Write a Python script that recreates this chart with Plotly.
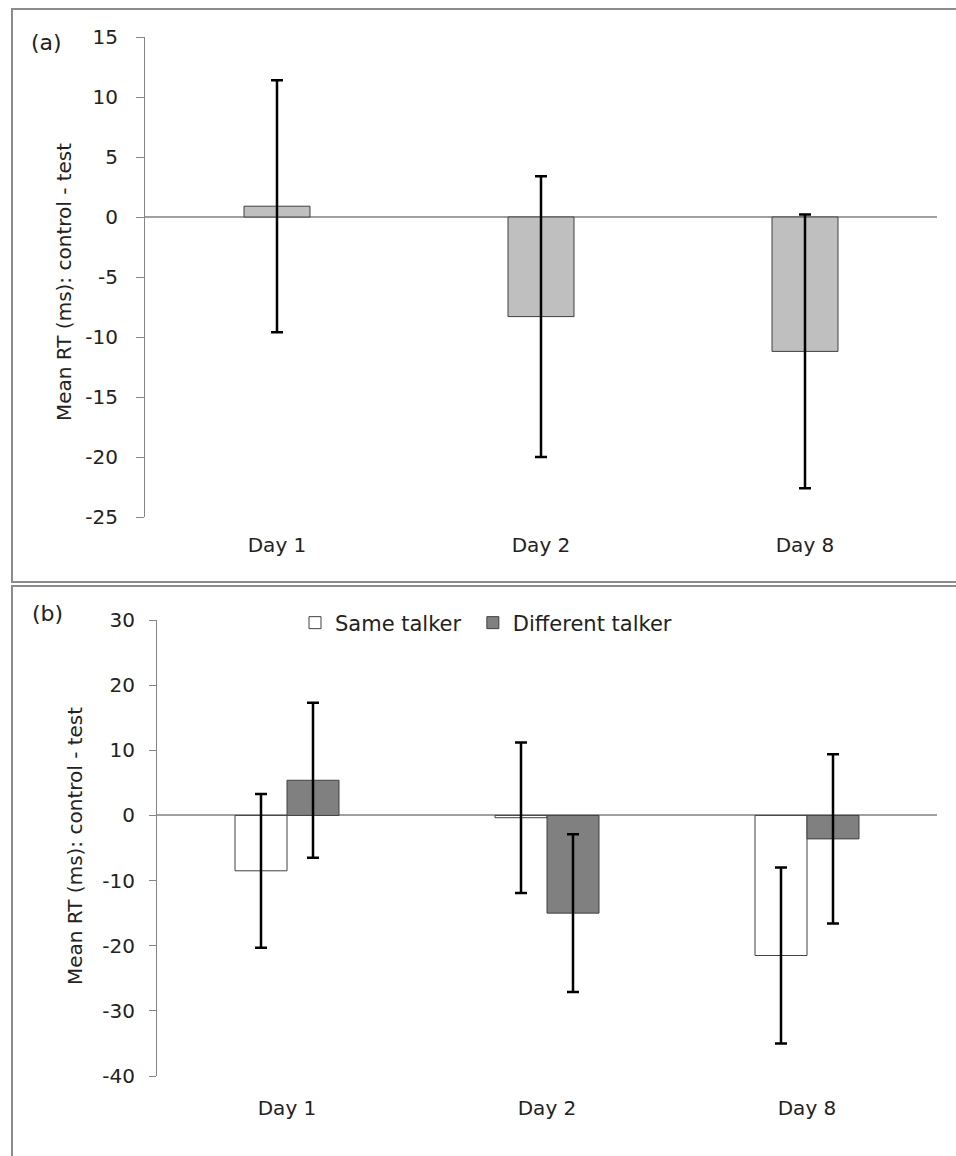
import plotly.graph_objects as go

days = ["Day 1", "Day 2", "Day 8"]

# Panel (a)
a_mean = [0.9, -8.3, -11.2]
a_err = [10.5, 11.7, 11.4]

# Panel (b)
b_same_mean = [-8.5, -0.35, -21.5]
b_same_err = [11.8, 11.55, 13.5]
b_diff_mean = [5.4, -15.0, -3.6]
b_diff_err = [11.9, 12.1, 13.0]

a_ticks = [15, 10, 5, 0, -5, -10, -15, -20, -25]
a_ticktext = ["15", "10", "5", "0", "-5", "-10", "-15", "-20", "-25"]
b_ticks = [30, 20, 10, 0, -10, -20, -30, -40]
b_ticktext = ["30", "20", "10", "0", "-10", "-20", "-30", "-40"]

W, H = 956, 1156
FONT = "DejaVu Sans"
TXT = "#222222"
AX = "#868686"
EDGE = "#404040"

def px_x(p):
    return p / W

def px_y(p):
    return 1 - p / H

fig = go.Figure()

err_style = dict(type="data", visible=True, color="black", thickness=2.5, width=6)

fig.add_trace(go.Bar(
    x=days, y=a_mean, xaxis="x", yaxis="y", width=0.25,
    marker=dict(color="#BFBFBF", line=dict(color=EDGE, width=1)),
    error_y=dict(array=a_err, **err_style), showlegend=False, name="All",
))
fig.add_trace(go.Bar(
    x=days, y=b_same_mean, xaxis="x2", yaxis="y2", width=0.2, offset=-0.2,
    marker=dict(color="#FFFFFF", line=dict(color=EDGE, width=1)),
    error_y=dict(array=b_same_err, **err_style), name="Same talker\u00a0",
))
fig.add_trace(go.Bar(
    x=days, y=b_diff_mean, xaxis="x2", yaxis="y2", width=0.2, offset=0.0,
    marker=dict(color="#808080", line=dict(color=EDGE, width=1)),
    error_y=dict(array=b_diff_err, **err_style), name="Different talker",
))

yaxis_common = dict(
    showline=True, linecolor=AX, linewidth=1, ticks="outside",
    tickcolor=AX, tickwidth=1, showgrid=False, zeroline=True,
    zerolinecolor="#A0A0A0", zerolinewidth=1.5, automargin=False,
    tickfont=dict(family=FONT, size=20, color=TXT), fixedrange=True,
)
xaxis_common = dict(
    showline=False, ticks="", showgrid=False, zeroline=False, automargin=False,
    tickfont=dict(family=FONT, size=20, color=TXT), fixedrange=True,
)

def ann(text, x, y, angle=0, size=20):
    return dict(text=text, x=px_x(x), y=px_y(y), xref="paper", yref="paper",
                xanchor="center", yanchor="middle", textangle=angle,
                showarrow=False, font=dict(family=FONT, size=size, color=TXT))

fig.update_layout(
    width=W, height=H, margin=dict(l=0, r=0, t=0, b=0, pad=0, autoexpand=False),
    paper_bgcolor="white", plot_bgcolor="white",
    font=dict(family=FONT, size=20, color=TXT),
    xaxis=dict(domain=[px_x(145), px_x(937)], anchor="y",
               ticklabelstandoff=14, **xaxis_common),
    yaxis=dict(domain=[px_y(517), px_y(37)], anchor="x", range=[-25, 15],
               tickvals=a_ticks, ticktext=a_ticktext, ticklabelstandoff=14,
               ticklen=8, **yaxis_common),
    xaxis2=dict(domain=[px_x(157), px_x(937)], anchor="y2",
                ticklabelstandoff=18, **xaxis_common),
    yaxis2=dict(domain=[px_y(1076), px_y(620)], anchor="x2", range=[-40, 30],
                tickvals=b_ticks, ticktext=b_ticktext, ticklabelstandoff=10,
                ticklen=7, **yaxis_common),
    legend=dict(orientation="h", x=px_x(295), y=px_y(623), xanchor="left",
                yanchor="middle", font=dict(family=FONT, size=21, color=TXT),
                bgcolor="rgba(0,0,0,0)", itemclick=False, itemdoubleclick=False),
    showlegend=True,
    annotations=[
        ann("(a)", 46, 42, size=22),
        ann("(b)", 47, 613, size=22),
        ann("Mean RT (ms): control - test", 64, 282, -90),
        ann("Mean RT (ms): control - test", 75, 846, -90),
    ],
    shapes=[
        dict(type="rect", xref="paper", yref="paper", x0=px_x(12), x1=px_x(975),
             y0=px_y(582), y1=px_y(9), line=dict(color="#8C8C8C", width=2)),
        dict(type="rect", xref="paper", yref="paper", x0=px_x(12), x1=px_x(975),
             y0=px_y(1175), y1=px_y(586), line=dict(color="#8C8C8C", width=2)),
    ],
)

fig.write_html("out.html")
